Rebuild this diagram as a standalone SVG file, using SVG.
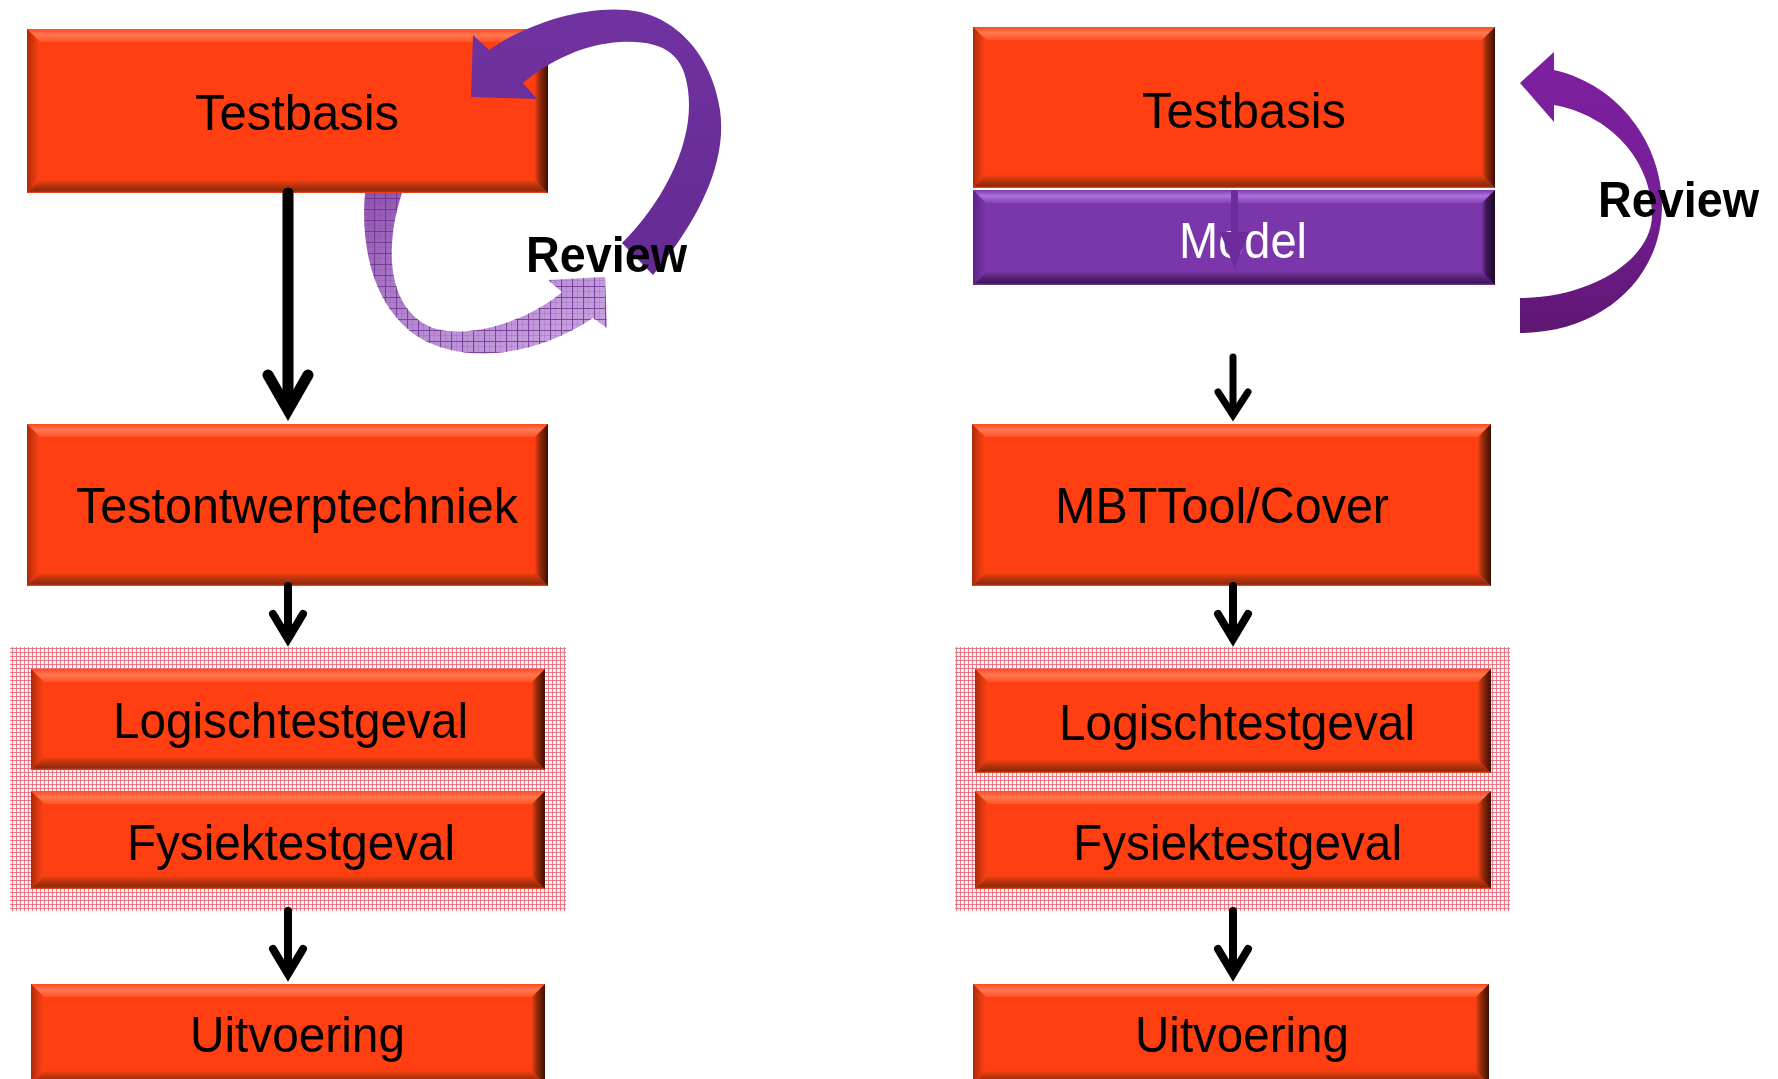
<svg xmlns="http://www.w3.org/2000/svg" width="1778" height="1079" viewBox="0 0 1778 1079">
<defs>
<linearGradient id="rTop" x1="0" y1="0" x2="0" y2="1"><stop offset="0" stop-color="#FF4A1C"/><stop offset="0.45" stop-color="#FF7852"/><stop offset="1" stop-color="#FF5226"/></linearGradient>
<linearGradient id="rBot" x1="0" y1="0" x2="0" y2="1"><stop offset="0" stop-color="#F2420F"/><stop offset="0.45" stop-color="#B8330E"/><stop offset="0.85" stop-color="#8E280A"/><stop offset="1" stop-color="#FF4A20"/></linearGradient>
<linearGradient id="rLeft" x1="0" y1="0" x2="1" y2="0"><stop offset="0" stop-color="#A82A0A"/><stop offset="0.45" stop-color="#D8360F"/><stop offset="1" stop-color="#FF4214"/></linearGradient>
<linearGradient id="rRight" x1="0" y1="0" x2="1" y2="0"><stop offset="0" stop-color="#F03E12"/><stop offset="0.35" stop-color="#9A2C0C"/><stop offset="1" stop-color="#3E0E04"/></linearGradient>
<linearGradient id="pTop" x1="0" y1="0" x2="0" y2="1"><stop offset="0" stop-color="#7E3AAE"/><stop offset="0.45" stop-color="#AC72DC"/><stop offset="1" stop-color="#8642B6"/></linearGradient>
<linearGradient id="pBot" x1="0" y1="0" x2="0" y2="1"><stop offset="0" stop-color="#74329F"/><stop offset="0.5" stop-color="#52206F"/><stop offset="0.85" stop-color="#3E1658"/><stop offset="1" stop-color="#7E40A8"/></linearGradient>
<linearGradient id="pLeft" x1="0" y1="0" x2="1" y2="0"><stop offset="0" stop-color="#5A2284"/><stop offset="0.5" stop-color="#6E2E9C"/><stop offset="1" stop-color="#7A36AA"/></linearGradient>
<linearGradient id="pRight" x1="0" y1="0" x2="1" y2="0"><stop offset="0" stop-color="#74329F"/><stop offset="0.35" stop-color="#3E1658"/><stop offset="1" stop-color="#1A0A26"/></linearGradient>
<linearGradient id="lightArrow" x1="0" y1="0" x2="1" y2="1"><stop offset="0" stop-color="#8E52AE"/><stop offset="0.5" stop-color="#B48AD0"/><stop offset="1" stop-color="#CDA8E2"/></linearGradient>
<linearGradient id="darkArrow" x1="0" y1="0" x2="0" y2="1"><stop offset="0" stop-color="#7032A0"/><stop offset="1" stop-color="#652A92"/></linearGradient>
<linearGradient id="rightArrow" x1="0" y1="0" x2="0" y2="1"><stop offset="0" stop-color="#7E20A0"/><stop offset="0.5" stop-color="#761E98"/><stop offset="1" stop-color="#5E1772"/></linearGradient>
<pattern id="pink" width="4" height="4" patternUnits="userSpaceOnUse"><rect width="4" height="4" fill="#FFF4F4"/><path d="M0 0.5H4M0.5 0V4" stroke="#E05868" stroke-width="1" stroke-opacity="0.75"/></pattern>
<pattern id="grid" width="11" height="11" patternUnits="userSpaceOnUse"><path d="M0 0.5H11M0.5 0V11" stroke="#6E2E92" stroke-width="1.2" stroke-opacity="0.8"/><path d="M0 5.5H11M5.5 0V11" stroke="#8040A8" stroke-width="0.6" stroke-opacity="0.35"/></pattern>
</defs>
<style>
.red .base{fill:#FF3F12}
.red .bt{fill:url(#rTop)}
.red .bb{fill:url(#rBot)}
.red .bl{fill:url(#rLeft)}
.red .br{fill:url(#rRight)}
.purple .base{fill:#7A36AA}
.purple .bt{fill:url(#pTop)}
.purple .bb{fill:url(#pBot)}
.purple .bl{fill:url(#pLeft)}
.purple .br{fill:url(#pRight)}
.lbl{font-family:"Liberation Sans",Arial,sans-serif;font-size:50px;fill:#000}
.white{fill:#FFFFFF}
.rev{font-family:"Liberation Sans",Arial,sans-serif;font-size:50px;font-weight:bold;fill:#000}
.cont{fill:url(#pink)}
.conn{stroke:#000;fill:none;stroke-linecap:round;stroke-linejoin:miter;stroke-miterlimit:6}
</style>

<g id="containers">
<rect id="group-left" class="cont" x="10" y="647" width="556" height="264"/>
<rect id="group-right" class="cont" x="955" y="647" width="555" height="264"/>
</g>

<g id="review-left-light">
<path d="M605,277 L548,280 L562,292 C530,320 470,340 433,328 C400,315 390,280 392,245 C393,225 397,208 402,193 L365,193 C360,250 375,310 420,338 C460,362 530,360 593,318 L607,328 Z" fill="url(#lightArrow)"/>
<path d="M605,277 L548,280 L562,292 C530,320 470,340 433,328 C400,315 390,280 392,245 C393,225 397,208 402,193 L365,193 C360,250 375,310 420,338 C460,362 530,360 593,318 L607,328 Z" fill="url(#grid)"/>
</g>

<g id="n-l1" class="red">
<rect class="base" x="27" y="29" width="521" height="164"/>
<polygon class="bt" points="27,29 548,29 535,42 40,42"/>
<polygon class="bb" points="27,193 548,193 535,180 40,180"/>
<polygon class="bl" points="27,29 40,42 40,180 27,193"/>
<polygon class="br" points="548,29 535,42 535,180 548,193"/>
<text class="lbl" x="195" y="130" textLength="204" lengthAdjust="spacingAndGlyphs">Testbasis</text>
</g>

<g id="n-l2" class="red">
<rect class="base" x="27" y="424" width="521" height="162"/>
<polygon class="bt" points="27,424 548,424 535,437 40,437"/>
<polygon class="bb" points="27,586 548,586 535,573 40,573"/>
<polygon class="bl" points="27,424 40,437 40,573 27,586"/>
<polygon class="br" points="548,424 535,437 535,573 548,586"/>
<text class="lbl" x="76" y="523" textLength="442" lengthAdjust="spacingAndGlyphs">Testontwerptechniek</text>
</g>

<g id="n-l3" class="red">
<rect class="base" x="31" y="669" width="514" height="101"/>
<polygon class="bt" points="31,669 545,669 532,682 44,682"/>
<polygon class="bb" points="31,770 545,770 532,757 44,757"/>
<polygon class="bl" points="31,669 44,682 44,757 31,770"/>
<polygon class="br" points="545,669 532,682 532,757 545,770"/>
<text class="lbl" x="113" y="738" textLength="355" lengthAdjust="spacingAndGlyphs">Logischtestgeval</text>
</g>

<g id="n-l4" class="red">
<rect class="base" x="31" y="791" width="514" height="98"/>
<polygon class="bt" points="31,791 545,791 532,804 44,804"/>
<polygon class="bb" points="31,889 545,889 532,876 44,876"/>
<polygon class="bl" points="31,791 44,804 44,876 31,889"/>
<polygon class="br" points="545,791 532,804 532,876 545,889"/>
<text class="lbl" x="127" y="860" textLength="328" lengthAdjust="spacingAndGlyphs">Fysiektestgeval</text>
</g>

<g id="n-l5" class="red">
<rect class="base" x="31" y="984" width="514" height="100"/>
<polygon class="bt" points="31,984 545,984 532,997 44,997"/>
<polygon class="bb" points="31,1084 545,1084 532,1071 44,1071"/>
<polygon class="bl" points="31,984 44,997 44,1071 31,1084"/>
<polygon class="br" points="545,984 532,997 532,1071 545,1084"/>
<text class="lbl" x="190" y="1052" textLength="215" lengthAdjust="spacingAndGlyphs">Uitvoering</text>
</g>

<g id="n-r1" class="red">
<rect class="base" x="973" y="27" width="522" height="161"/>
<polygon class="bt" points="973,27 1495,27 1482,40 986,40"/>
<polygon class="bb" points="973,188 1495,188 1482,175 986,175"/>
<polygon class="bl" points="973,27 986,40 986,175 973,188"/>
<polygon class="br" points="1495,27 1482,40 1482,175 1495,188"/>
<text class="lbl" x="1142" y="128" textLength="204" lengthAdjust="spacingAndGlyphs">Testbasis</text>
</g>

<g id="n-r2" class="purple">
<rect class="base" x="973" y="190" width="522" height="95"/>
<polygon class="bt" points="973,190 1495,190 1482,203 986,203"/>
<polygon class="bb" points="973,285 1495,285 1482,272 986,272"/>
<polygon class="bl" points="973,190 986,203 986,272 973,285"/>
<polygon class="br" points="1495,190 1482,203 1482,272 1495,285"/>
<text class="lbl white" x="1179" y="258" textLength="128" lengthAdjust="spacingAndGlyphs">Model</text>
</g>

<g id="n-r3" class="red">
<rect class="base" x="972" y="424" width="519" height="162"/>
<polygon class="bt" points="972,424 1491,424 1478,437 985,437"/>
<polygon class="bb" points="972,586 1491,586 1478,573 985,573"/>
<polygon class="bl" points="972,424 985,437 985,573 972,586"/>
<polygon class="br" points="1491,424 1478,437 1478,573 1491,586"/>
<text class="lbl" x="1055" y="523" textLength="334" lengthAdjust="spacingAndGlyphs">MBTTool/Cover</text>
</g>

<g id="n-r4" class="red">
<rect class="base" x="975" y="669" width="516" height="104"/>
<polygon class="bt" points="975,669 1491,669 1478,682 988,682"/>
<polygon class="bb" points="975,773 1491,773 1478,760 988,760"/>
<polygon class="bl" points="975,669 988,682 988,760 975,773"/>
<polygon class="br" points="1491,669 1478,682 1478,760 1491,773"/>
<text class="lbl" x="1059" y="740" textLength="356" lengthAdjust="spacingAndGlyphs">Logischtestgeval</text>
</g>

<g id="n-r5" class="red">
<rect class="base" x="975" y="791" width="516" height="98"/>
<polygon class="bt" points="975,791 1491,791 1478,804 988,804"/>
<polygon class="bb" points="975,889 1491,889 1478,876 988,876"/>
<polygon class="bl" points="975,791 988,804 988,876 975,889"/>
<polygon class="br" points="1491,791 1478,804 1478,876 1491,889"/>
<text class="lbl" x="1073" y="860" textLength="329" lengthAdjust="spacingAndGlyphs">Fysiektestgeval</text>
</g>

<g id="n-r6" class="red">
<rect class="base" x="973" y="984" width="516" height="100"/>
<polygon class="bt" points="973,984 1489,984 1476,997 986,997"/>
<polygon class="bb" points="973,1084 1489,1084 1476,1071 986,1071"/>
<polygon class="bl" points="973,984 986,997 986,1071 973,1084"/>
<polygon class="br" points="1489,984 1476,997 1476,1071 1489,1084"/>
<text class="lbl" x="1135" y="1052" textLength="214" lengthAdjust="spacingAndGlyphs">Uitvoering</text>
</g>

<g id="review-left-dark">
<path d="M471,97 L473,35 L489,50 C525,25 580,6 627,10 C675,14 712,55 720,110 C728,165 695,225 653,275 L622,243 C665,200 695,140 688,90 C684,55 665,40 620,42 C585,44 550,60 523,83 L537,99 Z" fill="url(#darkArrow)"/>
</g>

<g id="review-right">
<path d="M1520,83 L1554,52 L1554,70 C1620,85 1662,145 1662,205 C1662,280 1600,333 1520,333 L1520,298 C1590,298 1652,260 1652,215 C1652,160 1610,115 1554,105 L1554,122 Z" fill="url(#rightArrow)"/>
</g>

<g id="connectors">
<line class="conn" x1="288" y1="193" x2="288" y2="405" stroke-width="11" stroke-linecap="butt"/>
<polyline class="conn" points="268,375 288,410 308,375" stroke-width="11"/>
<line class="conn" x1="288" y1="586" x2="288" y2="635" stroke-width="8" stroke-linecap="butt"/>
<polyline class="conn" points="273,614 288,639 303,614" stroke-width="8"/>
<line class="conn" x1="288" y1="911" x2="288" y2="970" stroke-width="8" stroke-linecap="butt"/>
<polyline class="conn" points="273,949 288,974 303,949" stroke-width="8"/>
<line class="conn" x1="1233" y1="357" x2="1233" y2="410" stroke-width="7" stroke-linecap="butt"/>
<polyline class="conn" points="1218,392 1233,415 1248,392" stroke-width="7"/>
<line class="conn" x1="1233" y1="586" x2="1233" y2="635" stroke-width="8" stroke-linecap="butt"/>
<polyline class="conn" points="1218,614 1233,639 1248,614" stroke-width="8"/>
<line class="conn" x1="1233" y1="911" x2="1233" y2="970" stroke-width="8" stroke-linecap="butt"/>
<polyline class="conn" points="1218,949 1233,974 1248,949" stroke-width="8"/>
<line x1="1234.5" y1="190" x2="1234.5" y2="240" stroke="#6C2C9C" stroke-width="7"/>
<polygon points="1220,232 1249,232 1234.5,268" fill="#6C2C9C"/>
</g>

<g id="labels">
<text class="rev" x="526" y="272" textLength="161" lengthAdjust="spacingAndGlyphs">Review</text>
<text class="rev" x="1598" y="217" textLength="161" lengthAdjust="spacingAndGlyphs">Review</text>
</g>
</svg>
